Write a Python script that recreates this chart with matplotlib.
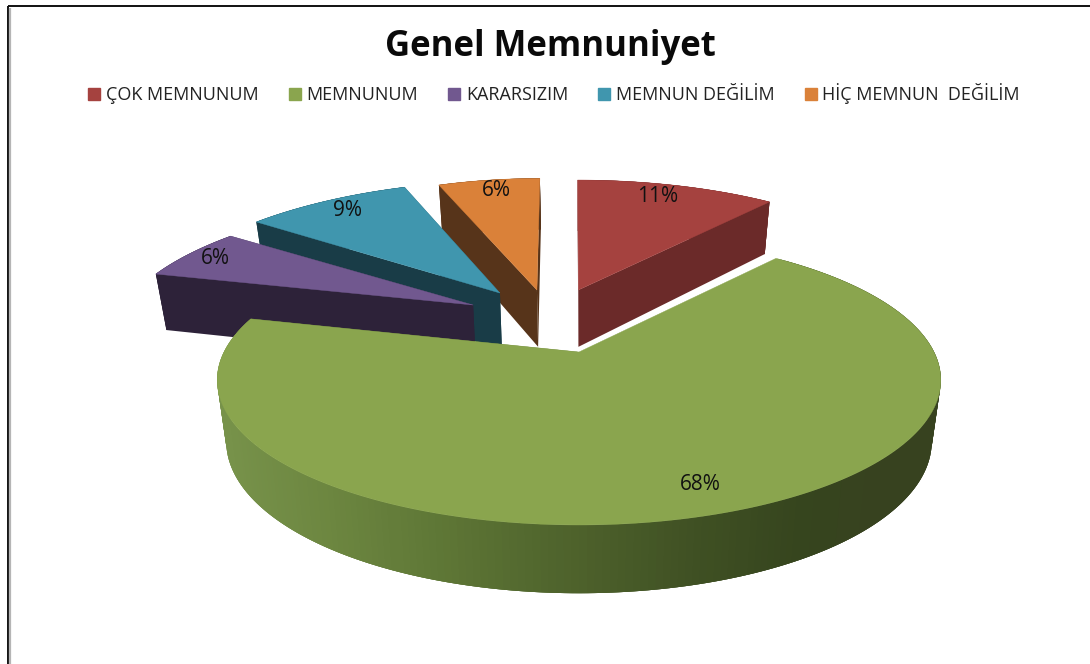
import numpy as np
import matplotlib
matplotlib.use("Agg")
import matplotlib.pyplot as plt
from matplotlib.patches import Polygon, Patch
from matplotlib.colors import to_rgb

title = "Genel Memnuniyet"
categories = ["ÇOK MEMNUNUM", "MEMNUNUM", "KARARSIZIM", "MEMNUN DEĞİLİM", "HİÇ MEMNUN  DEĞİLİM"]
values = [11, 68, 6, 9, 6]

top_colors = ["#a5423f", "#8aa54e", "#71588f", "#4096ae", "#da8139"]
side_colors = ["#6b2a29", "#59702f", "#2d2239", "#193c47", "#57341a"]
# per-slice explode offset in the pie plane, radius scale (x, y) and apex nudge in pixels
explode = [(-0.005, -0.486), (0, 0), (-0.319, -0.36), (-0.2425, -0.46), (-0.145, -0.486)]
rscale = [(1.07, 1.13), (1, 1), (1.05, 1.07), (1.07, 1.15), (1.0, 1.15)]
apex_nudge = [(1, 0), (0, 0), (0, 0), (0, 0), (5, 0)]
label_pos = [(658, 196), (700, 484), (215, 258), (347, 211), (496, 190)]
draw_order = [4, 0, 3, 2, 1]

CX, CY, A, B, K = 579, 352, 355, 139.6, 0.193


def project(X, Y, z=0.0):
    w = 1 - K * Y
    x = CX + (A / w) * X * (1 - 0.025 * z)
    y = CY + B * Y / w + z * 60 / w ** 0.6
    return np.column_stack([x, y])


fig = plt.figure(figsize=(10.9, 6.64), dpi=100, facecolor="white")
ax = fig.add_axes([0, 0, 1, 1])
ax.set_xlim(0, 1090)
ax.set_ylim(664, 0)
ax.axis("off")

plt.rcParams["font.family"] = ["Lato", "DejaVu Sans"]

# frame of the original chart area
ax.plot([8, 8], [664, 6], color="#111111", lw=1.4, solid_capstyle="butt")
ax.plot([10, 10], [664, 8], color="#b5b5b5", lw=1.6, solid_capstyle="butt")
ax.plot([8, 1090], [6, 6], color="#111111", lw=1.4, solid_capstyle="butt")

fractions = np.array(values) / sum(values)
edges = np.concatenate([[0], np.cumsum(fractions)]) * 2 * np.pi

# rim shading of the big slice, from light (left) to dark (right)
stops_x = [225, 330, 450, 580, 700, 800, 880, 940]
stops_c = ["#77924a", "#6c8640", "#5d7535", "#4d612b", "#3f5023", "#36451e", "#37421f", "#37421f"]
stops_rgb = np.array([to_rgb(c) for c in stops_c])

for i in draw_order:
    layer = 2 + draw_order.index(i)
    a0, a1 = edges[i], edges[i + 1]
    t = np.linspace(a0, a1, 240)
    dX, dY = explode[i]
    sx, sy = rscale[i]
    X = dX + sx * np.sin(t)
    Y = dY - sy * np.cos(t)
    top_rim = project(X, Y)
    bot_rim = project(X, Y, 1.0)
    nudge = np.array(apex_nudge[i], dtype=float)
    apex_top = project(np.array([dX]), np.array([dY])) + nudge
    apex_bot = project(np.array([dX]), np.array([dY]), 1.0) + nudge

    # radial faces
    for rim_t, rim_b in ((top_rim[0], bot_rim[0]), (top_rim[-1], bot_rim[-1])):
        ax.add_patch(Polygon([apex_top[0], rim_t, rim_b, apex_bot[0]], closed=True,
                             fc=side_colors[i], ec="none", zorder=layer))
    # outer rim as overlapping strips, so no seams show between them
    mids = 0.5 * (top_rim[:-1, 0] + top_rim[1:, 0])
    for j in range(len(t) - 1):
        if i == 1:
            col = [np.interp(mids[j], stops_x, stops_rgb[:, k]) for k in range(3)]
        else:
            col = side_colors[i]
        e = min(j + 3, len(t) - 1)
        quad = np.vstack([top_rim[j:e + 1], bot_rim[j:e + 1][::-1]])
        ax.add_patch(Polygon(quad, closed=True, fc=col, ec="none", zorder=layer))
    # top surface
    outline = np.vstack([apex_top, top_rim])
    if i == 1:
        # thin bright line along the slice's cut edge next to the first slice
        ax.plot([apex_top[0, 0], top_rim[0, 0]], [apex_top[0, 1], top_rim[0, 1]],
                color="white", lw=2.2, zorder=layer + 0.4)
    ax.add_patch(Polygon(outline, closed=True, fc=top_colors[i], ec=top_colors[i], lw=0.3,
                         zorder=layer + 0.5))

for v, (lx, ly) in zip(values, label_pos):
    ax.text(lx, ly, f"{v}%", ha="center", va="center", fontsize=15, color="#111111", zorder=20,
            family=["Open Sans", "DejaVu Sans"])

ax.text(550, 47, title, ha="center", va="center", fontsize=25, fontweight="bold", color="#0a0a0a",
        family=["Open Sans", "DejaVu Sans"])

handles = [Patch(facecolor=c, edgecolor=c, label=n) for c, n in zip(top_colors, categories)]
leg = ax.legend(handles=handles, ncol=5, loc="center", bbox_to_anchor=(554 / 1090, 1 - 94 / 664),
                bbox_transform=fig.transFigure, frameon=False,
                handlelength=0.68, handleheight=0.6, handletextpad=0.3, columnspacing=1.67,
                prop={"family": ["Open Sans", "DejaVu Sans"], "size": 13})
for tx in leg.get_texts():
    tx.set_color("#222222")

fig.savefig("out.png", dpi=100, facecolor="white")
